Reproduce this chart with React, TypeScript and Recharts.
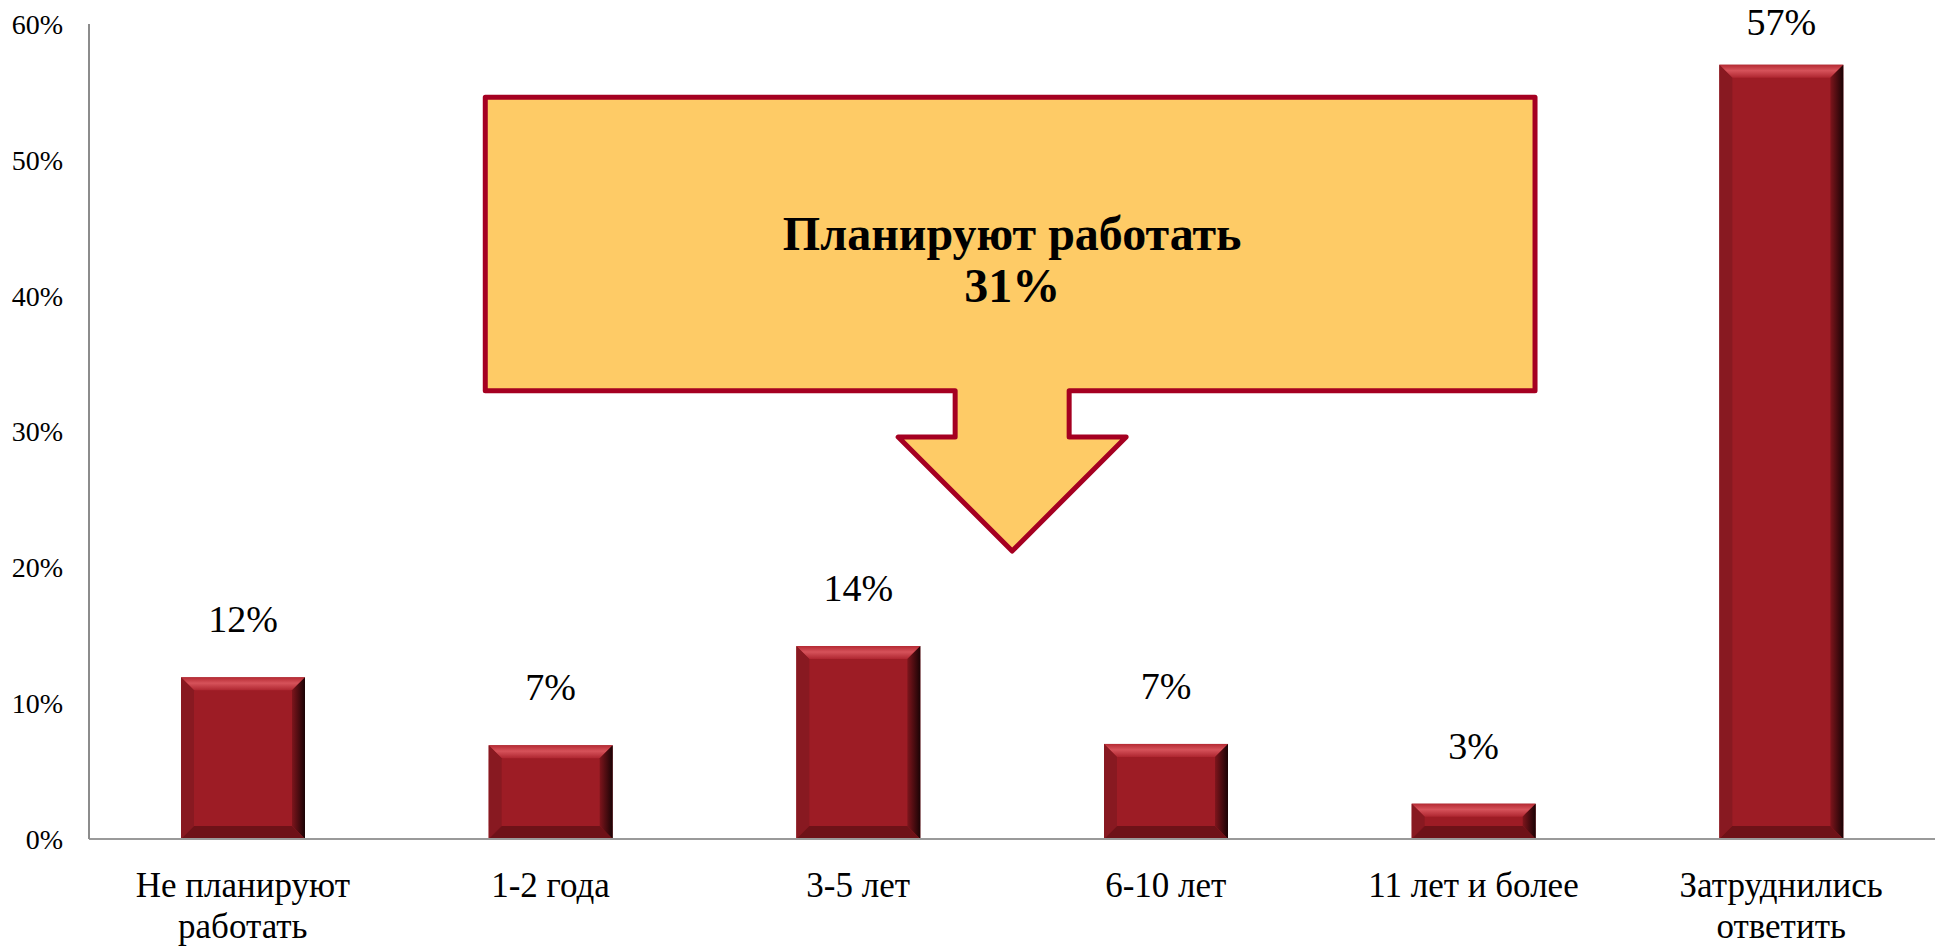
import React from 'react';
import { BarChart, Bar, XAxis, YAxis, LabelList, ReferenceArea } from 'recharts';

// survey answers: how long do they plan to keep working
const categories = [
  'Не планируют\nработать',
  '1-2 года',
  '3-5 лет',
  '6-10 лет',
  '11 лет и более',
  'Затруднились\nответить',
];
const shares = [11.9, 6.9, 14.2, 7.0, 2.6, 57.0];
const yTicks = [0, 10, 20, 30, 40, 50, 60];
const calloutTitle = 'Планируют работать';
// the callout sums the four "plan to work" groups
const calloutShare = shares.slice(1, 5).reduce((a, b) => a + b, 0);

const data = categories.map((name, i) => ({ name, value: shares[i] }));

const FONT = "'Liberation Serif', 'Times New Roman', serif";

// Bar with a bevelled look like the Office "circle" bevel
const BevelBar = (props: any) => {
  const { x, y, width: w, height: h } = props;
  if (!h || h <= 0) return null;
  const b = Math.min(13, h / 2);
  return (
    <g>
      <rect x={x} y={y} width={w} height={h} fill="#9D1C25" />
      <polygon
        points={`${x},${y} ${x + w},${y} ${x + w - b},${y + b} ${x + b},${y + b}`}
        fill="url(#bevelTop)"
      />
      <polygon
        points={`${x},${y} ${x + b},${y + b} ${x + b},${y + h - b} ${x},${y + h}`}
        fill="#881921"
      />
      <polygon
        points={`${x + w},${y} ${x + w},${y + h} ${x + w - b},${y + h - b} ${x + w - b},${y + b}`}
        fill="url(#bevelRight)"
      />
      <polygon
        points={`${x},${y + h} ${x + w},${y + h} ${x + w - b},${y + h - b} ${x + b},${y + h - b}`}
        fill="#6E1218"
      />
    </g>
  );
};

const ValueLabel = (props: any) => {
  const { x, y, width, value } = props;
  const cy = Math.max(y - 58, 22);
  return (
    <text
      x={x + width / 2}
      y={cy}
      textAnchor="middle"
      dominantBaseline="central"
      fontFamily={FONT}
      fontSize={38}
      fill="#000"
    >
      {Math.round(value)}%
    </text>
  );
};

const CategoryTick = (props: any) => {
  const { x, y, payload } = props;
  const lines = String(payload.value).split('\n');
  return (
    <text x={x} y={y + 58} textAnchor="middle" fontFamily={FONT} fontSize={35} fill="#000">
      {lines.map((line, i) => (
        <tspan key={i} x={x} dy={i === 0 ? 0 : 41}>
          {line}
        </tspan>
      ))}
    </text>
  );
};

// callout spans 33..54.6 on the value axis, pointer down to ~21%
const BOX_LOW = 33;
const BOX_HIGH = 54.6;
const HEAD_BASE = 29.6;
const TIP = 21.2;

const Callout = (props: any) => {
  const { x, y, width, height } = props;
  const ppu = height / (BOX_HIGH - BOX_LOW);
  const left = x + width * 0.072;
  const right = x + width - width * 0.075;
  const top = y;
  const bottom = y + height;
  const cx = (left + right) / 2 + 2;
  const headY = bottom + (BOX_LOW - HEAD_BASE) * ppu;
  const tipY = bottom + (BOX_LOW - TIP) * ppu;
  const stem = 57;
  const head = 114;
  const pts = [
    [left, top],
    [right, top],
    [right, bottom],
    [cx + stem, bottom],
    [cx + stem, headY],
    [cx + head, headY],
    [cx, tipY],
    [cx - head, headY],
    [cx - stem, headY],
    [cx - stem, bottom],
    [left, bottom],
  ]
    .map((p) => p.join(','))
    .join(' ');
  return (
    <g>
      <polygon points={pts} fill="#FECB66" stroke="#A50021" strokeWidth={5} strokeLinejoin="round" />
      <text
        x={cx}
        textAnchor="middle"
        fontFamily={FONT}
        fontSize={48}
        fontWeight="bold"
        fill="#000"
      >
        <tspan x={cx} y={top + 153}>
          {calloutTitle}
        </tspan>
        <tspan x={cx} y={top + 205}>
          {Math.round(calloutShare)}%
        </tspan>
      </text>
    </g>
  );
};

const App: React.FC = () => {
  return (
    <div style={{ position: 'absolute', left: 0, top: 0, background: '#fff' }}>
      <BarChart width={1935} height={947} data={data} margin={{ top: 24, right: 0, bottom: 0, left: 0 }}>
        <defs>
          <linearGradient id="bevelTop" x1="0" y1="0" x2="0" y2="1">
            <stop offset="0%" stopColor="#B52A33" />
            <stop offset="45%" stopColor="#D6525A" />
            <stop offset="100%" stopColor="#AE2630" />
          </linearGradient>
          <linearGradient id="bevelRight" x1="0" y1="0" x2="1" y2="0">
            <stop offset="0%" stopColor="#7E151C" />
            <stop offset="100%" stopColor="#1A0305" />
          </linearGradient>
        </defs>
        <XAxis
          dataKey="name"
          height={108}
          tickLine={false}
          tickSize={0}
          tickMargin={0}
          axisLine={{ stroke: '#9a9a9a', strokeWidth: 2 }}
          tick={<CategoryTick />}
          interval={0}
        />
        <YAxis
          width={89}
          domain={[0, 60]}
          ticks={yTicks}
          tickFormatter={(v: number) => `${v}%`}
          tickLine={false}
          tickSize={6}
          tickMargin={20}
          axisLine={{ stroke: '#8c8c8c', strokeWidth: 2 }}
          tick={{ fontFamily: FONT, fontSize: 28, fill: '#000' }}
        />
        <ReferenceArea
          x1={categories[1]}
          x2={categories[4]}
          y1={BOX_LOW}
          y2={BOX_HIGH}
          shape={<Callout />}
        />
        <Bar dataKey="value" barSize={124} shape={<BevelBar />} isAnimationActive={false}>
          <LabelList dataKey="value" content={<ValueLabel />} />
        </Bar>
      </BarChart>
    </div>
  );
};

export default App;
